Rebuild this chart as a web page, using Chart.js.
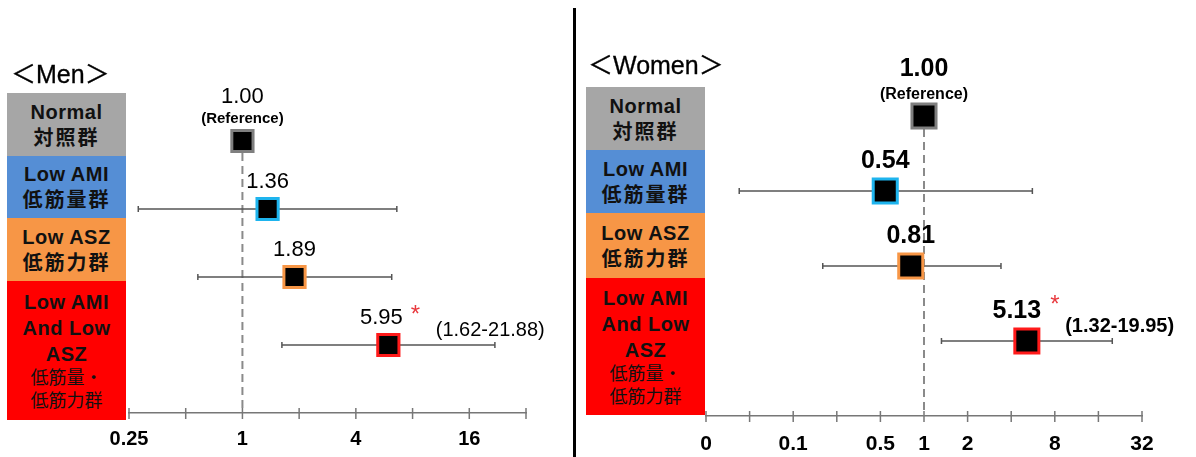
<!DOCTYPE html>
<html>
<head>
<meta charset="utf-8">
<script src="https://cdn.jsdelivr.net/npm/chart.js@4/dist/chart.umd.min.js"></script>
<style>
    body { margin: 0; background: #fff; }
    #wrap { position: relative; width: 1196px; height: 457px; overflow: hidden; font-family: "Liberation Sans", Arial, "Noto Sans CJK JP", sans-serif; }
    canvas { position: absolute; top: 0; }
    .divider { position: absolute; left: 573px; top: 8px; width: 3px; height: 449px; background: #000; }
    .title { position: absolute; font-size: 25px; color: #000; white-space: nowrap; line-height: 30px; -webkit-text-stroke: 0.3px #000; }
    .box { position: absolute; display: flex; flex-direction: column; justify-content: center; align-items: center; color: #111; }
    .box span { display: block; font-weight: bold; font-size: 20px; line-height: 26px; letter-spacing: 0.5px; white-space: nowrap; }
    .box span.jp { letter-spacing: 2px; }
    .box span.small { font-weight: normal; font-size: 18px; line-height: 23px; letter-spacing: 0; }
</style>
</head>
<body>
<div id="wrap">
    <canvas id="menChart" width="575" height="457" style="left:0"></canvas>
    <canvas id="womenChart" width="618" height="457" style="left:578px"></canvas>
    <div class="divider"></div>
    <div class="title" style="left:11px;top:59px">＜Men＞</div>
    <div class="title" style="left:588px;top:50px">＜Women＞</div>
    <div id="menBoxes"></div>
    <div id="womenBoxes"></div>
</div>
<script>
// groups (top to bottom)
const categories = ['Normal', 'Low AMI', 'Low ASZ', 'Low AMI and Low ASZ'];
const categoryLines = [
    ['Normal', '対照群'],
    ['Low AMI', '低筋量群'],
    ['Low ASZ', '低筋力群'],
    ['Low AMI', 'And Low', 'ASZ', '低筋量・', '低筋力群']
];
const categoryColors = ['#a6a6a6', '#558ed5', '#f79646', '#ff0000'];
const markerBorders = ['#7f7f7f', '#1eb4ee', '#f79646', '#ff1a1a'];

// odds ratios with 95% CI (reference group has none)
const menOR = [1.00, 1.36, 1.89, 5.95];
const menLow = [null, 0.28, 0.58, 1.62];
const menHigh = [null, 6.6, 6.2, 21.88];
const womenOR = [1.00, 0.54, 0.81, 5.13];
const womenLow = [null, 0.053, 0.20, 1.32];
const womenHigh = [null, 5.6, 3.4, 19.95];
const significant = [false, false, false, true];

// x axis ticks
const menTicks = [0.25, 0.5, 1, 2, 4, 8, 16, 32];
const menTickLabels = ['0.25', '', '1', '', '4', '', '16', ''];
const womenTicks = [1 / 32, 1 / 16, 1 / 8, 1 / 4, 0.5, 1, 2, 4, 8, 16, 32];
const womenTickLabels = ['0', '', '0.1', '', '0.5', '1', '2', '', '8', '', '32'];

const FONT = '"Liberation Sans", Arial, "Noto Sans CJK JP", sans-serif';

const buildBoxes = (containerId, left, top, heights) => {
    const el = document.getElementById(containerId);
    let y = top;
    categoryLines.forEach((lines, i) => {
        const box = document.createElement('div');
        box.className = 'box';
        box.style.cssText = `left:${left}px;top:${y}px;width:119px;height:${heights[i]}px;background:${categoryColors[i]}`;
        lines.forEach((txt, j) => {
            const s = document.createElement('span');
            s.textContent = txt;
            if (/[^\x00-\x7f]/.test(txt)) s.className = lines.length > 2 && j > 2 ? 'small' : 'jp';
            box.appendChild(s);
        });
        el.appendChild(box);
        y += heights[i];
    });
};

const forestPlugin = (or, lo, hi, st) => ({
    id: 'forest',
    beforeDatasetsDraw(chart) {
        const { ctx, chartArea, scales: { x, y } } = chart;
        ctx.save();
        // reference line at OR = 1
        ctx.strokeStyle = '#8a8a8a';
        ctx.lineWidth = 2;
        ctx.setLineDash([8, 5]);
        ctx.beginPath();
        ctx.moveTo(x.getPixelForValue(1), y.getPixelForValue(0) + st.half);
        ctx.lineTo(x.getPixelForValue(1), chartArea.bottom);
        ctx.stroke();
        ctx.setLineDash([]);
        // confidence intervals
        ctx.strokeStyle = '#555';
        ctx.lineWidth = 1.5;
        or.forEach((v, i) => {
            if (lo[i] == null) return;
            const py = y.getPixelForValue(i);
            const x1 = x.getPixelForValue(lo[i]);
            const x2 = x.getPixelForValue(hi[i]);
            ctx.beginPath();
            ctx.moveTo(x1, py); ctx.lineTo(x2, py);
            ctx.moveTo(x1, py - 3); ctx.lineTo(x1, py + 3);
            ctx.moveTo(x2, py - 3); ctx.lineTo(x2, py + 3);
            ctx.stroke();
        });
        // tick marks crossing the axis line
        ctx.strokeStyle = '#777';
        x.ticks.forEach(t => {
            const px = x.getPixelForValue(t.value);
            ctx.beginPath();
            ctx.moveTo(px, chartArea.bottom - 5);
            ctx.lineTo(px, chartArea.bottom + 6);
            ctx.stroke();
        });
        ctx.restore();
    },
    afterDatasetsDraw(chart) {
        const { ctx, scales: { x, y } } = chart;
        ctx.save();
        ctx.fillStyle = '#000';
        ctx.textBaseline = 'middle';
        or.forEach((v, i) => {
            const px = x.getPixelForValue(v);
            const py = y.getPixelForValue(i);
            ctx.textAlign = 'center';
            ctx.font = `${st.valFont} ${FONT}`;
            const txt = v.toFixed(2);
            if (i === 0) {
                ctx.fillText(txt, px, py + st.refDy[0]);
                ctx.font = `${st.refFont} ${FONT}`;
                ctx.fillText('(Reference)', px, py + st.refDy[1]);
                return;
            }
            const cx = px + (significant[i] ? st.sigShift : 0);
            const ly = py + st.valDy;
            ctx.fillText(txt, cx, ly);
            if (significant[i]) {
                const right = cx + ctx.measureText(txt).width / 2;
                ctx.textAlign = 'left';
                ctx.fillStyle = '#e8383d';
                ctx.font = `24px ${FONT}`;
                ctx.fillText('*', right + st.starDx - 6, ly + st.starDy);
                ctx.fillStyle = '#000';
                ctx.font = `${st.ciFont} ${FONT}`;
                ctx.fillText(`(${lo[i].toFixed(2)}-${hi[i].toFixed(2)})`, right + st.starDx + st.ciGap, ly + st.ciDy);
            }
        });
        ctx.restore();
    }
});

const makeChart = (id, or, lo, hi, ticks, tickLabels, st) => {
    const ctx = document.getElementById(id).getContext('2d');
    return new Chart(ctx, {
        type: 'scatter',
        data: {
            datasets: [{
                data: or.map((v, i) => ({ x: v, y: i })),
                pointStyle: 'rect',
                pointRadius: st.radius,
                pointHoverRadius: st.radius,
                backgroundColor: '#000',
                borderColor: markerBorders,
                borderWidth: 3,
                clip: false
            }]
        },
        options: {
            responsive: false,
            animation: false,
            events: [],
            layout: { padding: st.padding },
            plugins: { legend: { display: false }, tooltip: { enabled: false } },
            scales: {
                x: {
                    type: 'logarithmic',
                    min: ticks[0],
                    max: ticks[ticks.length - 1],
                    afterBuildTicks: scale => { scale.ticks = ticks.map(v => ({ value: v })); },
                    afterFit: scale => { scale.height = st.axisHeight; },
                    border: { display: true, color: '#777', width: 1.5 },
                    grid: { display: false, drawTicks: false },
                    ticks: {
                        autoSkip: false,
                        maxRotation: 0,
                        padding: st.tickPad,
                        color: '#000',
                        font: { family: FONT, size: st.tickSize, weight: 'bold' },
                        callback: (value, index) => tickLabels[index]
                    }
                },
                y: { type: 'linear', min: -1, max: 4, reverse: true, display: false }
            }
        },
        plugins: [forestPlugin(or, lo, hi, st)]
    });
};

document.addEventListener('DOMContentLoaded', function() {
    buildBoxes('menBoxes', 7, 93, [63, 62, 63, 139]);
    buildBoxes('womenBoxes', 586, 87, [63, 63, 65, 137]);

    makeChart('menChart', menOR, menLow, menHigh, menTicks, menTickLabels, {
        radius: 15, half: 12,
        padding: { left: 129, right: 49, top: 73, bottom: 0 },
        axisHeight: 44, tickPad: 14, tickSize: 20,
        valFont: '22px', refFont: 'bold 15px', refDy: [-44, -22], valDy: -27,
        sigShift: -7, starDx: 14, starDy: -3, ciFont: '20px', ciGap: 19, ciDy: 12
    });

    makeChart('womenChart', womenOR, womenLow, womenHigh, womenTicks, womenTickLabels, {
        radius: 17, half: 13,
        padding: { left: 128, right: 54, top: 41, bottom: 0 },
        axisHeight: 41, tickPad: 16, tickSize: 21,
        valFont: 'bold 25px', refFont: 'bold 16px', refDy: [-47, -21], valDy: -30,
        sigShift: -10, starDx: 15, starDy: -6, ciFont: 'bold 20px', ciGap: 9, ciDy: 15
    });
});
</script>
</body>
</html>
